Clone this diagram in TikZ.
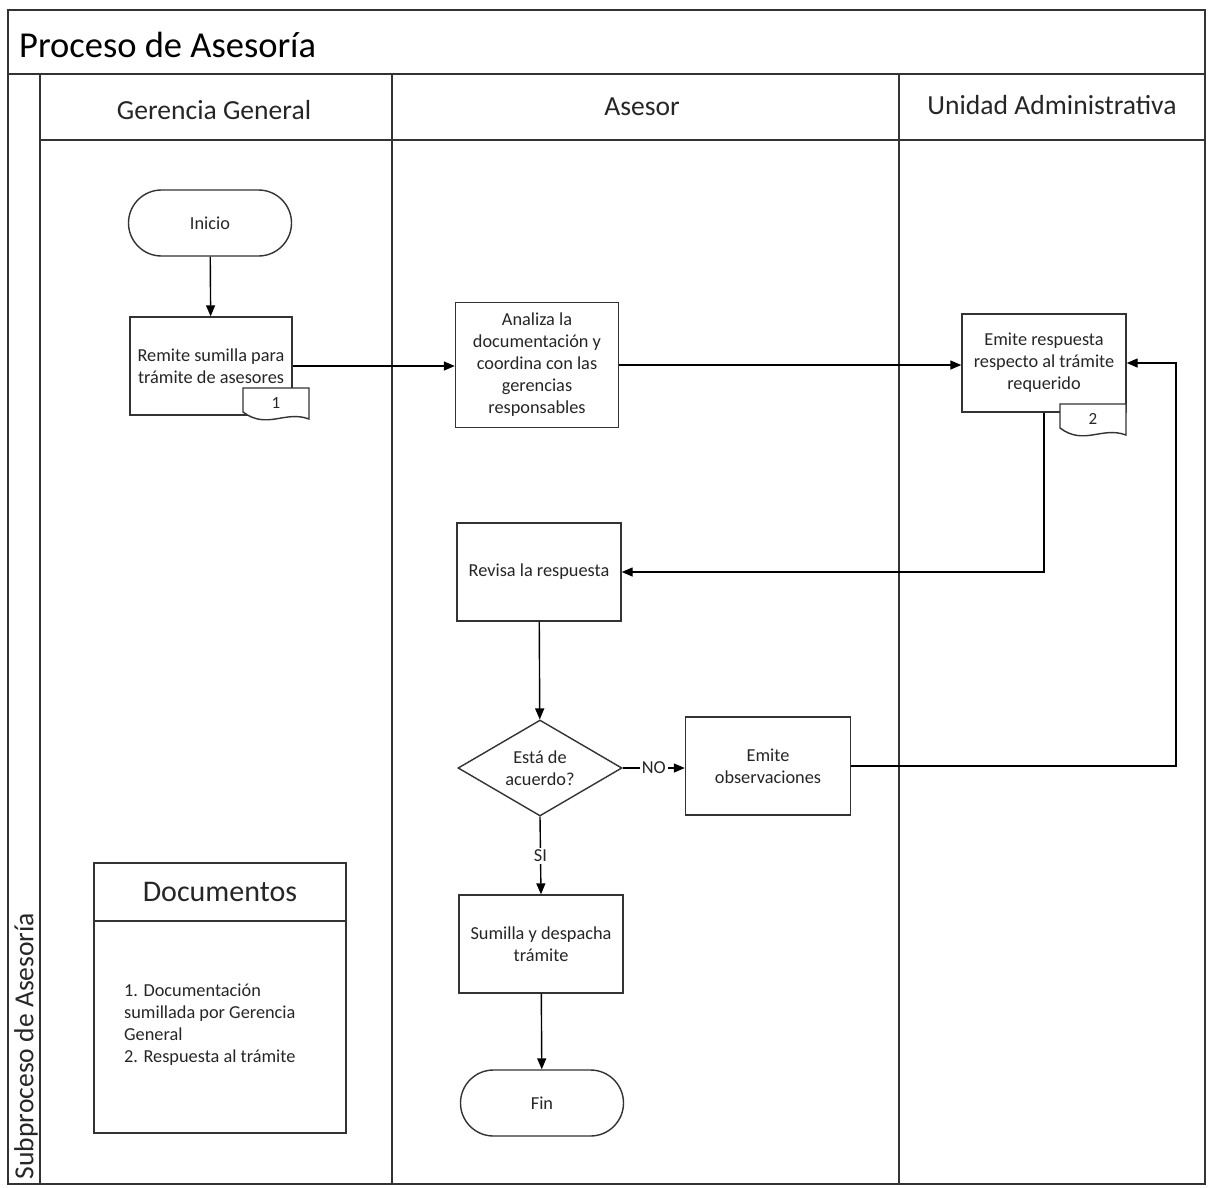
\documentclass[tikz,border=0pt]{standalone}
\usepackage{fontspec}
\setmainfont{Carlito}
\usetikzlibrary{arrows.meta,shapes.geometric,shapes.misc}
\definecolor{ink}{HTML}{262626}
\definecolor{rule}{HTML}{333333}
\tikzset{
  every node/.style={font=\fontsize{18.3}{22}\selectfont,text=ink,inner sep=0pt},
  frame/.style={draw=rule,line width=1.4pt},
  flow/.style={-{Triangle[length=11pt,width=9pt]},draw=black,line width=1.4pt},
  stepbox/.style={draw=rule,fill=white,line width=1.4pt,minimum width=164pt,
                  minimum height=98pt,align=center},
  terminal/.style={rounded rectangle,draw=rule,fill=white,line width=1.4pt,
                   minimum width=163pt,minimum height=66pt},
  decision/.style={diamond,draw=rule,fill=white,line width=1.4pt,aspect=1.7,
                   minimum width=164pt,minimum height=96pt,align=center},
  lane/.style={font=\fontsize{27.6}{30}\selectfont},
  flowlabel/.style={fill=white,inner sep=2pt},
}
% document tag hanging off the lower right corner of a box
\newcommand{\doctag}[4]{%
  \filldraw[frame,fill=white] (#2+66,#3+31) -- (#2+66,#3) -- (#2,#3) -- (#2,#3+24)
    .. controls (#2+24,#3+42) and (#2+42,#3+22) .. (#2+66,#3+31) -- cycle;
  \node[font=\fontsize{17}{18}\selectfont] (#1) at (#2+33,#3+15) {#4};%
}

\begin{document}
\begin{tikzpicture}[x=1pt,y=-1pt]           % pixel grid, y down
\path[use as bounding box] (0,0) rectangle (1208,1187);

% pool and lanes
\draw[frame] (8,10) rectangle (1205,1184);
\draw[frame] (8,74) -- (1205,74);
\draw[frame] (40,74) -- (40,1184);
\draw[frame] (40,140) -- (1205,140);
\draw[frame] (392,74) -- (392,1184);
\draw[frame] (899,74) -- (899,1184);
\node[anchor=west,font=\fontsize{36.5}{40}\selectfont,text=black] (title) at (19,45) {Proceso de Asesoría};
\node[lane] (laneG) at (214,110) {Gerencia General};
\node[lane] (laneA) at (642,107) {Asesor};
\node[lane] (laneU) at (1052,105) {Unidad Administrativa};
\node[lane,rotate=90] (pool) at (26,1046) {Subproceso de Asesoría};

% Gerencia General
\node[terminal] (inicio) at (210,223) {Inicio};
\node[stepbox,minimum width=162pt] (remite) at (211,366) {Remite sumilla para\\trámite de asesores};
\doctag{tagA}{243}{388}{1}

% Asesor
\node[stepbox,minimum width=163pt,minimum height=125pt] (analiza) at (537,365)
  {Analiza la\\documentación y\\coordina con las\\gerencias\\responsables};
\node[stepbox] (revisa) at (539,572) {Revisa la respuesta};
\node[decision] (acuerdo) at (540,768) {Está de\\acuerdo?};
\node[stepbox,minimum width=165pt] (observa) at (768,766) {Emite\\observaciones};
\node[stepbox] (sumilla) at (541,944) {Sumilla y despacha\\trámite};
\node[terminal] (fin) at (542,1103) {Fin};

% Unidad Administrativa
\node[stepbox] (respuesta) at (1044,363) {Emite respuesta\\respecto al trámite\\requerido};
\doctag{tagB}{1060}{404}{2}
\coordinate (vuelta) at (1176,363);

% flows
\draw[flow] (inicio) -- (remite);
\draw[flow] (remite.east) -- (remite.east -| analiza.west);
\draw[flow] (analiza.east) -- (analiza.east -| respuesta.west);
\draw[flow] (respuesta.south) |- (revisa.east);
\draw[flow] (revisa) -- (acuerdo);
\draw[flow] (acuerdo.east) -- node[flowlabel] {NO} (acuerdo.east -| observa.west);
\draw[flow] (observa.east) -| (vuelta) -- (respuesta.east);
\draw[flow] (acuerdo.south) -- node[flowlabel] {SI} (sumilla.north);
\draw[flow] (sumilla) -- (fin);

% documents legend
\draw[frame] (94,863) rectangle (346,1133);
\draw[frame] (94,921) -- (346,921);
\node[font=\fontsize{30}{32}\selectfont] (docs) at (220,892) {Documentos};
\node[anchor=north west,align=left] (doclist) at (124,984)
  {1. Documentación\\sumillada por Gerencia\\General\\2. Respuesta al trámite};
\end{tikzpicture}
\end{document}
